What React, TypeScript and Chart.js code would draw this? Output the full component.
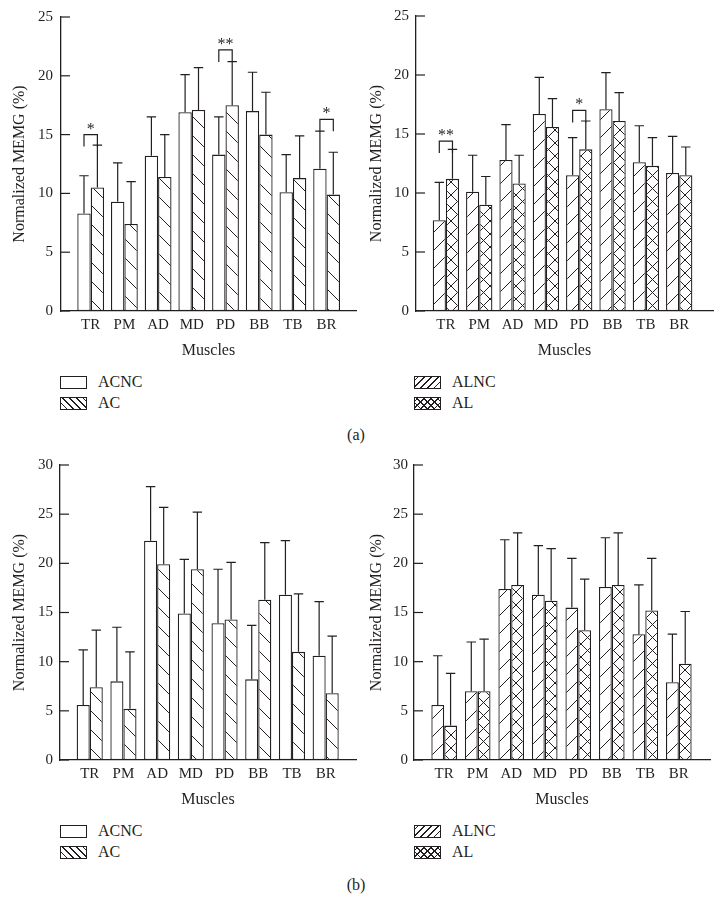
import React, { useEffect, useRef } from 'react';
import { Chart, registerables } from 'chart.js';

Chart.register(...registerables);

const INK = '#231f20';
const FONT = '"Liberation Serif", "Times New Roman", serif';

// ---------- data ----------
const muscles = ['TR', 'PM', 'AD', 'MD', 'PD', 'BB', 'TB', 'BR'];

// (a) left: ACNC vs AC
const aAcnc = [8.3, 9.3, 13.2, 16.9, 13.3, 17.0, 10.1, 12.1];
const aAcncUpper = [11.5, 12.6, 16.5, 20.1, 16.5, 20.3, 13.3, 15.3];
const aAc = [10.5, 7.4, 11.4, 17.1, 17.5, 15.0, 11.3, 9.9];
const aAcUpper = [14.1, 11.0, 15.0, 20.7, 21.2, 18.6, 14.9, 13.5];
// (a) right: ALNC vs AL
const aAlnc = [7.7, 10.1, 12.8, 16.7, 11.5, 17.1, 12.6, 11.7];
const aAlncUpper = [10.9, 13.2, 15.8, 19.8, 14.7, 20.2, 15.7, 14.8];
const aAl = [11.2, 9.0, 10.8, 15.6, 13.7, 16.1, 12.3, 11.5];
const aAlUpper = [13.7, 11.4, 13.2, 18.0, 16.1, 18.5, 14.7, 13.9];
// (b) left: ACNC vs AC
const bAcnc = [5.6, 8.0, 22.3, 14.9, 13.9, 8.2, 16.8, 10.6];
const bAcncUpper = [11.2, 13.5, 27.8, 20.4, 19.4, 13.7, 22.3, 16.1];
const bAc = [7.4, 5.2, 19.9, 19.4, 14.3, 16.3, 11.0, 6.8];
const bAcUpper = [13.2, 11.0, 25.7, 25.2, 20.1, 22.1, 16.9, 12.6];
// (b) right: ALNC vs AL
const bAlnc = [5.6, 7.0, 17.4, 16.8, 15.5, 17.6, 12.8, 7.9];
const bAlncUpper = [10.6, 12.0, 22.4, 21.8, 20.5, 22.6, 17.8, 12.8];
const bAl = [3.5, 7.0, 17.8, 16.2, 13.2, 17.8, 15.2, 9.8];
const bAlUpper = [8.8, 12.3, 23.1, 21.5, 18.4, 23.1, 20.5, 15.1];

// significance brackets: category index, bracket level (%), mark
const aLeftSig = [
  { index: 0, level: 15.0, mark: '*' },
  { index: 4, level: 22.2, mark: '**' },
  { index: 7, level: 16.3, mark: '*' },
];
const aRightSig = [
  { index: 0, level: 14.4, mark: '**' },
  { index: 4, level: 17.0, mark: '*' },
];

type Sig = { index: number; level: number; mark: string };
type Series = { label: string; values: number[]; upper: number[]; pattern: string };
type PanelCfg = {
  left: number; top: number; width: number; height: number;
  yMax: number; xMin: number; xMax: number; catPct: number;
  yAxisWidth: number; padRight: number; padTop: number;
  yTitlePad: number; yTickPad: number;
  s1: Series; s2: Series; sig: Sig[];
};

const panels: PanelCfg[] = [
  {
    left: 0, top: 0, width: 360, height: 360, yMax: 25, xMin: -0.881, xMax: 7.872, catPct: 0.795,
    yAxisWidth: 61, padRight: 4, padTop: 16, yTitlePad: 10, yTickPad: 8,
    s1: { label: 'ACNC', values: aAcnc, upper: aAcncUpper, pattern: 'none' },
    s2: { label: 'AC', values: aAc, upper: aAcUpper, pattern: 'back' },
    sig: aLeftSig,
  },
  {
    left: 360, top: 0, width: 361, height: 360, yMax: 25, xMin: -0.897, xMax: 8.014, catPct: 0.79,
    yAxisWidth: 56, padRight: 8, padTop: 16, yTitlePad: 7, yTickPad: 7,
    s1: { label: 'ALNC', values: aAlnc, upper: aAlncUpper, pattern: 'fwd' },
    s2: { label: 'AL', values: aAl, upper: aAlUpper, pattern: 'cross' },
    sig: aRightSig,
  },
  {
    left: 0, top: 449, width: 360, height: 360, yMax: 30, xMin: -0.882, xMax: 7.9, catPct: 0.775,
    yAxisWidth: 60, padRight: 4, padTop: 16, yTitlePad: 10, yTickPad: 7,
    s1: { label: 'ACNC', values: bAcnc, upper: bAcncUpper, pattern: 'none' },
    s2: { label: 'AC', values: bAc, upper: bAcUpper, pattern: 'back' },
    sig: [],
  },
  {
    left: 360, top: 449, width: 361, height: 360, yMax: 30, xMin: -0.9, xMax: 7.93, catPct: 0.765,
    yAxisWidth: 54, padRight: 11, padTop: 16, yTitlePad: 7, yTickPad: 6,
    s1: { label: 'ALNC', values: bAlnc, upper: bAlncUpper, pattern: 'fwd' },
    s2: { label: 'AL', values: bAl, upper: bAlUpper, pattern: 'cross' },
    sig: [],
  },
];

function makePattern(kind: string): CanvasPattern | string {
  if (kind === 'none') return '#ffffff';
  const s = kind === 'cross' ? 13 : kind === 'fwd' ? 18 : 19;
  const c = document.createElement('canvas');
  c.width = s; c.height = s;
  const g = c.getContext('2d')!;
  g.fillStyle = '#ffffff';
  g.fillRect(0, 0, s, s);
  g.strokeStyle = INK;
  g.lineWidth = 1;
  g.beginPath();
  if (kind === 'back' || kind === 'cross') {
    g.moveTo(-1, -1); g.lineTo(s + 1, s + 1);
    g.moveTo(-1, s - 1); g.lineTo(1, s + 1);
    g.moveTo(s - 1, -1); g.lineTo(s + 1, 1);
  }
  if (kind === 'fwd' || kind === 'cross') {
    g.moveTo(-1, s + 1); g.lineTo(s + 1, -1);
    g.moveTo(-1, 1); g.lineTo(1, -1);
    g.moveTo(s - 1, s + 1); g.lineTo(s + 1, s - 1);
  }
  g.stroke();
  return g.createPattern(c, 'repeat')!;
}

function Panel({ cfg }: { cfg: PanelCfg }) {
  const ref = useRef<HTMLCanvasElement>(null);
  useEffect(() => {
    const canvas = ref.current!;
    const overlay = {
      id: 'overlay',
      afterDatasetsDraw(chart: any) {
        const ctx = chart.ctx as CanvasRenderingContext2D;
        const y = chart.scales.y;
        const area = chart.chartArea;
        ctx.save();
        ctx.strokeStyle = INK;
        ctx.lineWidth = 1.2;
        // error bars
        [cfg.s1.upper, cfg.s2.upper].forEach((up, di) => {
          const meta = chart.getDatasetMeta(di);
          meta.data.forEach((el: any, i: number) => {
            const x = el.x;
            const yu = y.getPixelForValue(up[i]);
            ctx.beginPath();
            ctx.moveTo(x, el.y);
            ctx.lineTo(x, yu);
            ctx.moveTo(x - 4.7, yu);
            ctx.lineTo(x + 4.7, yu);
            ctx.stroke();
          });
        });
        // inward y tick marks
        y.ticks.forEach((t: any) => {
          const py = y.getPixelForValue(t.value);
          ctx.beginPath();
          ctx.moveTo(area.left, py);
          ctx.lineTo(area.left + 9, py);
          ctx.stroke();
        });
        // significance brackets
        ctx.fillStyle = INK;
        ctx.font = `16px ${FONT}`;
        ctx.textAlign = 'center';
        ctx.textBaseline = 'alphabetic';
        cfg.sig.forEach((b) => {
          const x1 = chart.getDatasetMeta(0).data[b.index].x;
          const x2 = chart.getDatasetMeta(1).data[b.index].x;
          const yy = y.getPixelForValue(b.level);
          ctx.beginPath();
          ctx.moveTo(x1, yy + 12);
          ctx.lineTo(x1, yy);
          ctx.lineTo(x2, yy);
          ctx.lineTo(x2, yy + 12);
          ctx.stroke();
          ctx.fillText(b.mark, (x1 + x2) / 2, yy - 1);
        });
        ctx.restore();
      },
    };
    const mk = (s: Series) => ({
      label: s.label,
      data: s.values.map((v, i) => ({ x: i, y: v })),
      backgroundColor: makePattern(s.pattern),
      borderColor: INK,
      borderWidth: 1.3,
      borderSkipped: false,
      categoryPercentage: cfg.catPct,
      barPercentage: 1,
    });
    const chart = new Chart(canvas, {
      type: 'bar',
      data: { datasets: [mk(cfg.s1), mk(cfg.s2)] as any },
      options: {
        animation: false,
        responsive: false,
        devicePixelRatio: 1,
        layout: { padding: { top: cfg.padTop, right: cfg.padRight, left: 0, bottom: 0 } },
        plugins: { legend: { display: false }, tooltip: { enabled: false } },
        scales: {
          x: {
            type: 'linear',
            min: cfg.xMin,
            max: cfg.xMax,
            offset: false,
            grid: { display: false, drawTicks: false },
            border: { display: true, color: INK, width: 1.3 },
            afterBuildTicks: (s: any) => { s.ticks = muscles.map((_, i) => ({ value: i })); },
            afterFit: (s: any) => { s.height = 49; },
            ticks: {
              autoSkip: false,
              maxRotation: 0,
              padding: 5,
              color: INK,
              font: { size: 15, family: FONT },
              callback: (_v: any, i: number) => muscles[i],
            },
            title: { display: true, text: 'Muscles', color: INK, font: { size: 16, family: FONT }, padding: { top: 0, bottom: 0 } },
          },
          y: {
            type: 'linear',
            min: 0,
            max: cfg.yMax,
            grid: { display: false, drawTicks: false },
            border: { display: true, color: INK, width: 1.3 },
            afterFit: (s: any) => { s.width = cfg.yAxisWidth; },
            ticks: { stepSize: 5, padding: cfg.yTickPad, color: INK, font: { size: 15, family: FONT } },
            title: { display: true, text: 'Normalized MEMG (%)', color: INK, font: { size: 16, family: FONT }, padding: { top: cfg.yTitlePad, bottom: 0 } },
          },
        },
      } as any,
      plugins: [overlay],
    });
    return () => chart.destroy();
  }, [cfg]);
  return (
    <canvas
      ref={ref}
      width={cfg.width}
      height={cfg.height}
      style={{ position: 'absolute', left: cfg.left, top: cfg.top, width: cfg.width, height: cfg.height }}
    />
  );
}

const swatchBg: Record<string, string> = {
  none: '#ffffff',
  back: `repeating-linear-gradient(45deg, #ffffff 0px, #ffffff 3.6px, ${INK} 3.6px, ${INK} 4.8px)`,
  fwd: `repeating-linear-gradient(-45deg, #ffffff 0px, #ffffff 3.6px, ${INK} 3.6px, ${INK} 4.8px)`,
  cross: `repeating-linear-gradient(45deg, transparent 0px, transparent 3.6px, ${INK} 3.6px, ${INK} 4.8px), repeating-linear-gradient(-45deg, #ffffff 0px, #ffffff 3.6px, ${INK} 3.6px, ${INK} 4.8px)`,
};

function LegendRow({ x, textX, cy, pattern, label }: { x: number; textX: number; cy: number; pattern: string; label: string }) {
  return (
    <>
      <div
        style={{
          position: 'absolute', left: x, top: cy - 6.5, width: 27, height: 13,
          boxSizing: 'border-box', border: `1.3px solid ${INK}`, background: swatchBg[pattern],
        }}
      />
      <div style={{ position: 'absolute', left: textX, top: cy - 10, lineHeight: '20px', fontSize: 16, whiteSpace: 'nowrap' }}>
        {label}
      </div>
    </>
  );
}

export default function App() {
  return (
    <div
      style={{
        position: 'fixed', left: 0, top: 0, width: 721, height: 917, background: '#ffffff',
        fontFamily: FONT, color: INK, overflow: 'hidden',
      }}
    >
      {panels.map((p, i) => <Panel key={i} cfg={p} />)}
      {[0, 449].map((dy) => (
        <React.Fragment key={dy}>
          <LegendRow x={60} textX={98} cy={382 + dy} pattern="none" label="ACNC" />
          <LegendRow x={60} textX={98} cy={403 + dy} pattern="back" label="AC" />
          <LegendRow x={414} textX={452} cy={382 + dy} pattern="fwd" label="ALNC" />
          <LegendRow x={414} textX={452} cy={403 + dy} pattern="cross" label="AL" />
        </React.Fragment>
      ))}
      <div style={{ position: 'absolute', left: 356, top: 425, transform: 'translateX(-50%)', lineHeight: '20px', fontSize: 16 }}>(a)</div>
      <div style={{ position: 'absolute', left: 356, top: 875, transform: 'translateX(-50%)', lineHeight: '20px', fontSize: 16 }}>(b)</div>
    </div>
  );
}
